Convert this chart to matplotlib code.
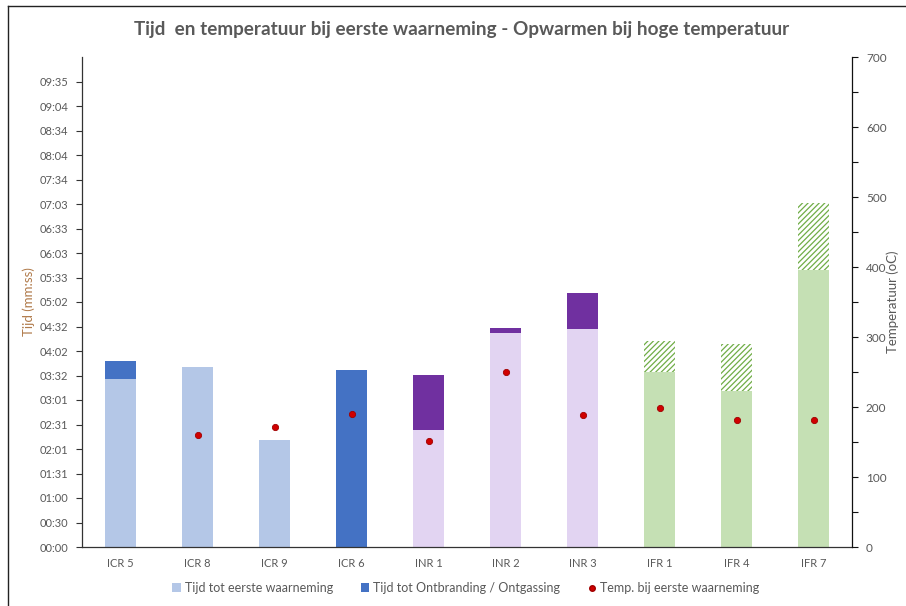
import numpy as np
import matplotlib
matplotlib.use("Agg")
import matplotlib.pyplot as plt
from matplotlib.ticker import FixedLocator, FuncFormatter, MultipleLocator
from matplotlib.patches import Patch
from matplotlib.lines import Line2D

plt.rcParams['font.family'] = ['Lato', 'DejaVu Sans']
plt.rcParams['hatch.linewidth'] = 0.9

# Samples
samples = ["ICR 5", "ICR 8", "ICR 9", "ICR 6", "INR 1", "INR 2", "INR 3", "IFR 1", "IFR 4", "IFR 7"]
# Time until first observation (seconds)
t_first = [207, 222, 132, 0, 144, 264, 269, 216, 192, 342]
# Extra time until ignition / outgassing (seconds, stacked on top)
t_ignition = [22, 0, 0, 219, 68, 6, 44, 38, 58, 82]
# Temperature at first observation (degrees C)
temp_first = [np.nan, 160, 171, 190, 152, 250, 188, 199, 181, 181]

light_colors = ["#B4C7E7"] * 4 + ["#E2D4F2"] * 3 + ["#C5E0B4"] * 3
dark_colors = ["#4472C4"] * 4 + ["#7030A0"] * 3 + [None] * 3

TEXT = "#595959"
DAY = 86400.0
step = 0.00035 * DAY          # major unit of the time axis
tmax = 0.007 * DAY

fig = plt.figure(figsize=(9.06, 6.06), dpi=100)
ax = fig.add_axes([82 / 906, 59 / 606, 770 / 906, 490 / 606])
x = np.arange(len(samples))
w = 0.4

ax.bar(x, t_first, width=w, color=light_colors, linewidth=0, zorder=2)
for i in range(len(samples)):
    if t_ignition[i] <= 0:
        continue
    if dark_colors[i] is None:
        ax.bar(x[i], t_ignition[i], bottom=t_first[i], width=w, facecolor="white",
               edgecolor="#70AD47", hatch="/" * 6, linewidth=0, zorder=2)
    else:
        ax.bar(x[i], t_ignition[i], bottom=t_first[i], width=w, color=dark_colors[i],
               linewidth=0, zorder=2)

ax.set_xlim(-0.5, len(samples) - 0.5)
ax.set_ylim(0, tmax)
ax.set_xticks(x)
ax.set_xticklabels(samples)
ax.yaxis.set_major_locator(FixedLocator([k * step for k in range(20)]))


def mmss(v, pos=None):
    s = int(round(v))
    return f"{s // 60:02d}:{s % 60:02d}"


ax.yaxis.set_major_formatter(FuncFormatter(mmss))
ax.tick_params(axis="x", length=0, labelsize=8, colors=TEXT, pad=8)
ax.tick_params(axis="y", direction="out", length=4, width=0.8, labelsize=8,
               labelcolor=TEXT, color="#333333", pad=6)
for s in ["top", "right"]:
    ax.spines[s].set_visible(False)
ax.spines["left"].set_color("#333333")
ax.spines["bottom"].set_color("#333333")
ax.spines["left"].set_linewidth(0.9)
ax.spines["bottom"].set_linewidth(0.9)
ax.set_ylabel("Tijd (mm:ss)", color="#B07A4A", fontsize=9.5)
ax.yaxis.set_label_coords(-0.061, 0.5)

ax2 = ax.twinx()
ax2.set_ylim(0, 700)
ax2.yaxis.set_major_locator(MultipleLocator(100))
ax2.yaxis.set_minor_locator(MultipleLocator(50))
ax2.plot(x, temp_first, linestyle="none", marker="o", markersize=4.5,
         markerfacecolor="#D00000", markeredgecolor="#A00000", markeredgewidth=0.6, zorder=5)
for s in ["top", "left", "bottom"]:
    ax2.spines[s].set_visible(False)
ax2.spines["right"].set_color("#111111")
ax2.spines["right"].set_linewidth(0.9)
ax2.tick_params(axis="y", which="major", direction="out", length=4, width=0.8,
                labelsize=8.5, labelcolor=TEXT, color="#111111", pad=6)
ax2.tick_params(axis="y", which="minor", direction="out", length=4, width=0.8, color="#111111")
ax2.set_ylabel("Temperatuur (oC)", color=TEXT, fontsize=9.5)
ax2.yaxis.set_label_coords(1.045, 0.5)

fig.text(462 / 906, 1 - 30 / 606, "Tijd  en temperatuur bij eerste waarneming - Opwarmen bij hoge temperatuur",
         ha="center", va="center", fontsize=13.6, fontweight="bold", color=TEXT)

handles = [
    Patch(facecolor="#B4C7E7", edgecolor="none"),
    Patch(facecolor="#4472C4", edgecolor="none"),
    Line2D([], [], linestyle="none", marker="o", markersize=4,
           markerfacecolor="#D00000", markeredgecolor="#A00000"),
]
labels = ["Tijd tot eerste waarneming", "Tijd tot Ontbranding / Ontgassing", "Temp. bij eerste waarneming"]
fig.legend(handles, labels, loc="center", bbox_to_anchor=(466 / 906, 1 - 588 / 606), ncol=3,
           frameon=False, fontsize=9, labelcolor=TEXT, handlelength=0.7, handleheight=0.7,
           handletextpad=0.3, columnspacing=2.2)

# chart area frame
fig.add_artist(Line2D([8 / 906, 8 / 906], [0, 1 - 6 / 606], transform=fig.transFigure,
                      color="#222222", linewidth=1))
fig.add_artist(Line2D([8 / 906, 1], [1 - 6 / 606, 1 - 6 / 606], transform=fig.transFigure,
                      color="#222222", linewidth=1))

fig.savefig("out.png", dpi=100)
